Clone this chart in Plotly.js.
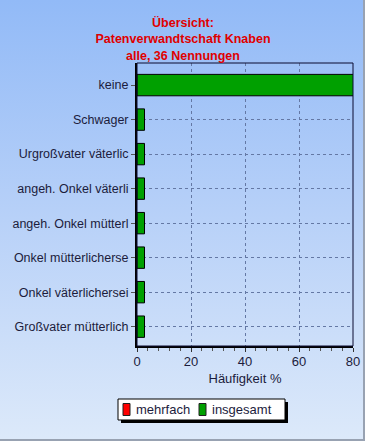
<!DOCTYPE html>
<html>
<head>
<meta charset="utf-8">
<script src="https://cdn.plot.ly/plotly-3.0.1.min.js"></script>
<style>
  html, body { margin: 0; padding: 0; }
  #wrap {
    width: 365px; height: 441px; box-sizing: border-box;
    background: linear-gradient(to bottom, #92baf7 0%, #b8d1f8 50%, #dce9fa 100%);
    border-right: 2px solid #98a2b2; border-bottom: 2px solid #98a2b2;
    position: relative;
  }
  #chart { width: 365px; height: 441px; position: absolute; left: 0; top: 0; }
</style>
</head>
<body>
<div id="wrap"><div id="chart"></div></div>
<script>
const titleLines = ["Übersicht:", "Patenverwandtschaft Knaben", "alle, 36 Nennungen"];
const categories = [
  "keine",
  "Schwager",
  "Urgroßvater väterlic",
  "angeh. Onkel väterli",
  "angeh. Onkel mütterl",
  "Onkel mütterlicherse",
  "Onkel väterlichersei",
  "Großvater mütterlich"
];
const seriesNames = ["mehrfach", "insgesamt"];
const mehrfach = [0, 0, 0, 0, 0, 0, 0, 0];
const insgesamt = [80.56, 2.78, 2.78, 2.78, 2.78, 2.78, 2.78, 2.78];
const xTicks = [0, 20, 40, 60, 80];
const seriesColors = ["#ff0000", "#00a000"];

const W = 365, H = 441;
const L = 137, R = 12, T = 63, B = 95;
const pw = W - L - R, ph = H - T - B;
const px = v => (v - L) / pw;
const py = v => (H - B - v) / ph;

const FONT = "Arial, Liberation Sans, sans-serif";
const textColor = "#1c1c3c";
const traces = [mehrfach, insgesamt].map((vals, i) => ({
  type: "bar", orientation: "h", name: seriesNames[i],
  y: categories, x: vals,
  marker: { color: seriesColors[i], line: { color: "#000000", width: 1 } },
  width: 0.62, showlegend: false
}));

const annotations = [];
// legend (drawn with shapes + annotations for the compact layout of the reference)
const legItems = [
  { sx: 123, tx: 134 },
  { sx: 199, tx: 210 }
];
const shapes = [
  { type: "rect", xref: "paper", yref: "paper", x0: 0, x1: 1, y0: 0, y1: 1,
    line: { color: "#0a0a30", width: 1 }, fillcolor: "rgba(0,0,0,0)", layer: "above" },
  { type: "rect", xref: "paper", yref: "paper",
    x0: px(121), x1: px(288), y0: py(402), y1: py(423),
    line: { width: 0 }, fillcolor: "#000000", layer: "above" },
  { type: "rect", xref: "paper", yref: "paper",
    x0: px(118), x1: px(285), y0: py(399), y1: py(420),
    line: { color: "#000000", width: 1 }, fillcolor: "#ffffff", layer: "above" }
];
legItems.forEach((it, i) => {
  shapes.push({ type: "rect", xref: "paper", yref: "paper",
    x0: px(it.sx), x1: px(it.sx + 7), y0: py(403.5), y1: py(415.5),
    line: { color: "#202020", width: 1 }, fillcolor: seriesColors[i], layer: "above" });
  annotations.push({ text: seriesNames[i], xref: "paper", yref: "paper",
    x: px(it.tx), y: py(409.5), xanchor: "left", yanchor: "middle", showarrow: false,
    font: { family: FONT, size: 13, color: textColor } });
});

const layout = {
  width: W, height: H,
  margin: { l: L, r: R, t: T, b: B, pad: 0 },
  paper_bgcolor: "rgba(0,0,0,0)",
  plot_bgcolor: "rgba(0,0,0,0)",
  barmode: "overlay",
  showlegend: false,
  font: { family: FONT, size: 12, color: textColor },
  title: {
    text: "<b>" + titleLines.join("<br>") + "</b>",
    font: { family: FONT, size: 12.5, color: "#e00000" },
    x: 183 / W, xref: "container", xanchor: "center",
    y: 1 - 27 / H, yref: "container", yanchor: "middle"
  },
  xaxis: {
    range: [0, 80], tickvals: xTicks, ticktext: xTicks.map(String),
    showgrid: true, gridcolor: "#6478a4", griddash: "3px,3px", gridwidth: 1,
    zeroline: false,
    showline: true, linecolor: "#000000", linewidth: 2, mirror: false,
    ticks: "outside", ticklen: 4, tickcolor: "#333333", tickwidth: 1,
    ticklabelstandoff: -2,
    minor: { dtick: 4, ticks: "outside", ticklen: 3, tickcolor: "#555555", showgrid: false },
    tickfont: { family: FONT, size: 13, color: textColor },
    title: { text: "Häufigkeit %", font: { family: FONT, size: 13, color: textColor }, standoff: 6 },
    fixedrange: true
  },
  yaxis: {
    type: "category", categoryorder: "array", categoryarray: categories,
    autorange: false, range: [7.56, -0.64],
    showgrid: true, gridcolor: "#6478a4", griddash: "3px,3px", gridwidth: 1,
    zeroline: false,
    showline: true, linecolor: "#000000", linewidth: 2, mirror: false,
    ticks: "outside", ticklen: 4, tickcolor: "#555555", tickwidth: 1,
    tickfont: { family: FONT, size: 12.5, color: textColor },
    fixedrange: true
  },
  shapes: shapes,
  annotations: annotations
};

Plotly.newPlot("chart", traces, layout, { displayModeBar: false, staticPlot: true });
</script>
</body>
</html>
